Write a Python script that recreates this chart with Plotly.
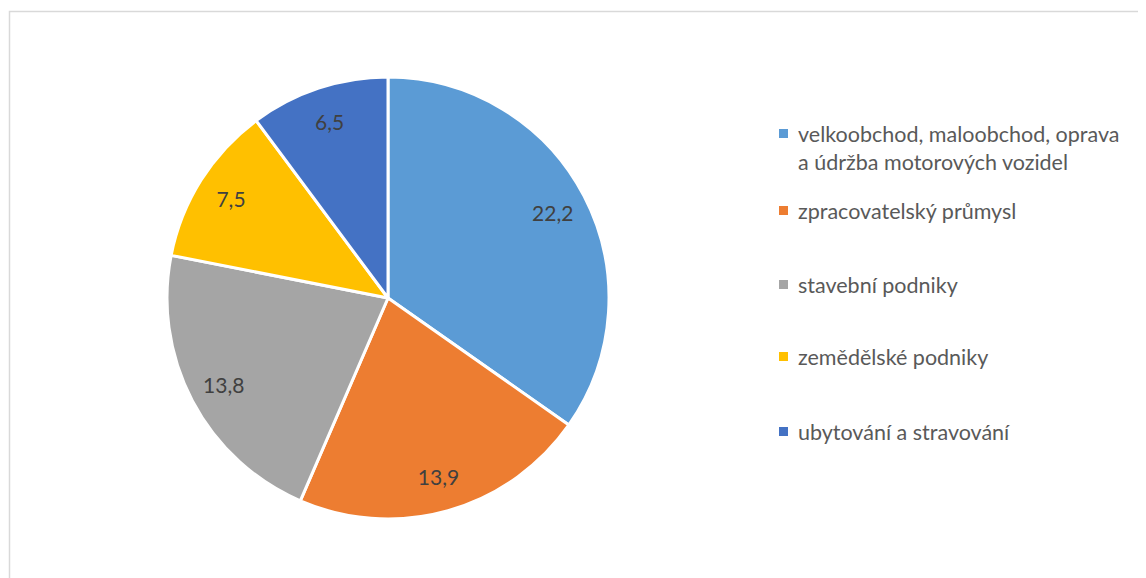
import plotly.graph_objects as go

categories = [
    "velkoobchod, maloobchod, oprava<br>a údržba motorových vozidel",
    "zpracovatelský průmysl",
    "stavební podniky",
    "zemědělské podniky",
    "ubytování a stravování",
]
values = [22.2, 13.9, 13.8, 7.5, 6.5]
colors = ["#5B9BD5", "#ED7D31", "#A5A5A5", "#FFC000", "#4472C4"]

W, H = 1146, 578
OFF = 8  # page body margin


def px(x):
    return (x - OFF) / W


def py(y):
    return 1 - (y - OFF) / H


pie_dom = dict(x=[px(167), px(609)], y=[py(519), py(77)])

fig = go.Figure()
fig.add_trace(go.Pie(
    labels=categories,
    values=values,
    sort=False,
    direction="clockwise",
    rotation=0,
    marker=dict(colors=colors, line=dict(color="white", width=3)),
    textinfo="none",
    domain=pie_dom,
    showlegend=False,
    hoverinfo="label+value",
))
# transparent ring carrying the data labels further out, like Excel
fig.add_trace(go.Pie(
    labels=categories,
    values=values,
    sort=False,
    direction="clockwise",
    rotation=0,
    hole=0.68,
    marker=dict(colors=["rgba(0,0,0,0)"] * len(values), line=dict(width=0)),
    texttemplate="%{value:.1f}",
    textposition="inside",
    insidetextorientation="horizontal",
    textfont=dict(family="Lato", size=21, color="#404040"),
    domain=pie_dom,
    showlegend=False,
    hoverinfo="skip",
))

# legend drawn as annotations + squares
legend_y = [148, 211, 285, 357, 432]
for cat, col, yy in zip(categories, colors, legend_y):
    first = yy - 14 if "<br>" in cat else yy
    fig.add_shape(type="rect", xref="paper", yref="paper",
                  x0=px(779), x1=px(788),
                  y0=py(first + 4), y1=py(first - 5),
                  fillcolor=col, line=dict(width=0))
    fig.add_annotation(x=px(796), y=py(yy), xref="paper", yref="paper",
                       text=cat, showarrow=False, xanchor="left", yanchor="middle",
                       align="left",
                       font=dict(family="Lato", size=21.5, color="#595959"))

# chart border
fig.add_shape(type="rect", xref="paper", yref="paper",
              x0=px(9.5), x1=1.2, y0=-0.2, y1=py(11.5),
              line=dict(color="#D9D9D9", width=1.5), fillcolor="rgba(0,0,0,0)")

fig.update_layout(
    width=W, height=H,
    margin=dict(l=0, r=0, t=0, b=0),
    paper_bgcolor="white",
    plot_bgcolor="white",
    separators=", ",
)

fig.write_html("out.html")
